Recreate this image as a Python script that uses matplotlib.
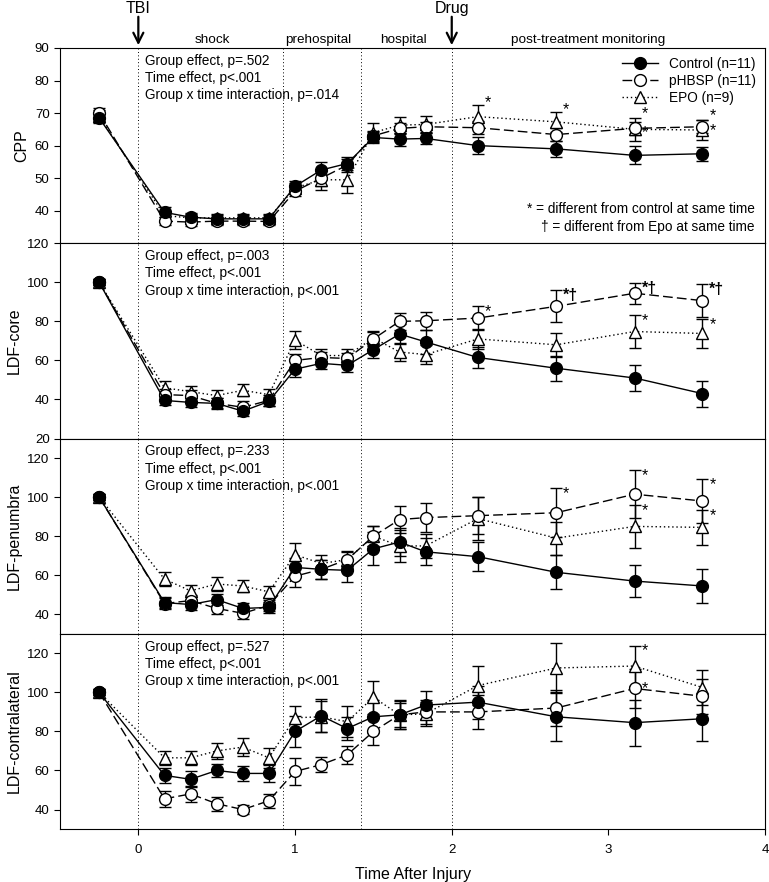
import matplotlib
matplotlib.use('Agg')
import matplotlib.pyplot as plt
import matplotlib.transforms as mtransforms
from matplotlib.lines import Line2D

plt.rcParams['font.family'] = ['Liberation Sans', 'DejaVu Sans']

# time points (hours after injury)
times = [-0.25, 0.167, 0.333, 0.5, 0.667, 0.833, 1.0, 1.167, 1.333, 1.5, 1.667, 1.833, 2.167, 2.667, 3.167, 3.6]

# CPP
cpp_control = [68.5, 39.5, 38, 37.5, 37.5, 37.5, 47.5, 52.5, 54.5, 62.5, 62, 62.2, 60, 59, 57, 57.5]
cpp_phbsp = [70, 36.8, 36.5, 36.8, 36.8, 36.7, 46, 50, 54, 63, 65.3, 65.8, 65.5, 63.4, 65.3, 65.8]
cpp_epo = [69, 38.5, 37.8, 37.8, 37.8, 37.8, 47, 49.5, 49.5, 64, 66.3, 66.5, 68.9, 67.3, 65, 64.8]
cpp_control_err = [1.5, 1.5, 1.3, 1.3, 1.3, 1.3, 1.5, 2.5, 2, 1.8, 2, 1.8, 2.5, 2.5, 2.8, 2.2]
cpp_phbsp_err = [1.5, 1.2, 1.2, 1.2, 1.2, 1.2, 1.5, 2.5, 2, 1.5, 1.8, 1.5, 2, 2, 2, 2]
cpp_epo_err = [1.8, 1.3, 1.3, 1.3, 1.3, 1.3, 1.5, 3, 4, 3, 2.5, 2.5, 3.5, 3, 3.6, 3]

# LDF-core
core_control = [100, 39.5, 38.5, 38, 34, 39, 55.5, 58.5, 57.5, 65.5, 73.5, 69.5, 61.5, 56, 51, 43]
core_phbsp = [100, 42.5, 42, 38, 36, 39.5, 60, 61.5, 61, 71, 80, 80.3, 81.7, 87.7, 94.4, 90.6]
core_epo = [100, 46, 44, 42, 44.7, 42.5, 70.4, 62.5, 62.5, 71.5, 64.3, 63, 71, 68, 74.8, 73.8]
core_control_err = [1.5, 2.5, 2.5, 2.5, 2.5, 2.5, 4, 3, 3.5, 4.5, 5, 6, 5.5, 6.5, 6.7, 6.6]
core_phbsp_err = [1.5, 3, 3, 3, 3, 3, 3.5, 3, 3, 3.5, 4.5, 4.5, 6.3, 8.2, 5.5, 8.6]
core_epo_err = [1.5, 3.5, 3, 3, 3, 3, 4.7, 3.5, 3.5, 3.5, 4.7, 4.7, 5, 6, 8.5, 7.6]

# LDF-penumbra
pen_control = [100, 46, 45, 47.5, 43, 43.5, 64, 63, 62.5, 73.5, 77, 72, 69.5, 61.5, 57, 54.5]
pen_phbsp = [100, 45.5, 47, 43, 40.5, 44.5, 59.5, 63, 68, 80, 88.5, 89.5, 90.5, 92, 101.5, 98]
pen_epo = [100, 58, 52, 55.5, 54.5, 51.5, 70.5, 66, 68, 80, 75, 75, 89, 79, 85, 84.5]
pen_control_err = [1.5, 3, 3, 3, 3, 3, 5, 5, 6, 8.5, 7, 7, 7.5, 8.8, 8.2, 8.7]
pen_phbsp_err = [1.5, 3, 3, 3, 3, 3, 5.5, 5, 4, 5, 7, 7.5, 9.5, 12.5, 12.2, 11.3]
pen_epo_err = [1.5, 3.5, 3, 3.5, 3, 3, 6, 4.5, 4.5, 5, 8, 6, 11, 8.5, 11, 8.9]

# LDF-contralateral
con_control = [100, 57.5, 55.5, 60, 58.5, 58.5, 80, 88, 81.5, 87.5, 88.5, 93.5, 95, 87.5, 84.5, 86.5]
con_phbsp = [100, 45.5, 48, 43, 40, 44.5, 59.5, 63, 68, 80, 88.5, 90, 90, 92, 102, 98]
con_epo = [100, 66.5, 66.5, 70, 72, 66.5, 87, 87.5, 85, 97.5, 88.5, 89, 103.5, 112.5, 113.5, 102.5]
con_control_err = [1.5, 4, 4, 3.5, 4, 4.5, 8, 8.5, 6, 8.5, 7.5, 7, 8.5, 12.5, 11.8, 11.5]
con_phbsp_err = [1.5, 4, 4, 3.5, 2.5, 3.5, 7, 4, 4.5, 7, 6, 6, 8.5, 9, 10, 9]
con_epo_err = [1.5, 3.5, 3.5, 4, 4.5, 5, 6, 8, 8, 8.5, 7, 6, 10, 12.8, 10, 9]

panel_names = ['CPP', 'LDF-core', 'LDF-penumbra', 'LDF-contralateral']
stats_text = [
    ['Group effect, p=.502', 'Time effect, p<.001', 'Group x time interaction, p=.014'],
    ['Group effect, p=.003', 'Time effect, p<.001', 'Group x time interaction, p<.001'],
    ['Group effect, p=.233', 'Time effect, p<.001', 'Group x time interaction, p<.001'],
    ['Group effect, p=.527', 'Time effect, p<.001', 'Group x time interaction, p<.001'],
]

# significance marks: (panel, group, time index, text, at top of error bar or beside marker, y offset pt)
marks = [
    (0, 'epo', 12, '*', 'top', 2), (0, 'epo', 13, '*', 'top', 2), (0, 'epo', 14, '*', 'top', 3),
    (0, 'phbsp', 14, '*', 'mid', -3), (0, 'epo', 15, '*', 'top', 3), (0, 'phbsp', 15, '*', 'mid', -3),
    (1, 'phbsp', 12, '*', 'top', -4), (1, 'phbsp', 13, '*†', 'top', -4), (1, 'phbsp', 14, '*†', 'top', -4),
    (1, 'phbsp', 15, '*†', 'top', -4), (1, 'epo', 14, '*', 'top', -4), (1, 'epo', 15, '*', 'top', -4),
    (2, 'phbsp', 13, '*', 'top', -4), (2, 'phbsp', 14, '*', 'top', -4), (2, 'phbsp', 15, '*', 'top', -4),
    (2, 'epo', 14, '*', 'top', -4), (2, 'epo', 15, '*', 'top', -4),
    (3, 'epo', 14, '*', 'top', -3), (3, 'phbsp', 14, '*', 'mid', 0),
]

phase_lines = [0, 0.92, 1.42, 2.0]
phase_labels = ['shock', 'prehospital', 'hospital', 'post-treatment monitoring']
phase_label_x = [0.47, 1.15, 1.69, 2.87]

data = [
    {'control': (cpp_control, cpp_control_err), 'phbsp': (cpp_phbsp, cpp_phbsp_err), 'epo': (cpp_epo, cpp_epo_err)},
    {'control': (core_control, core_control_err), 'phbsp': (core_phbsp, core_phbsp_err), 'epo': (core_epo, core_epo_err)},
    {'control': (pen_control, pen_control_err), 'phbsp': (pen_phbsp, pen_phbsp_err), 'epo': (pen_epo, pen_epo_err)},
    {'control': (con_control, con_control_err), 'phbsp': (con_phbsp, con_phbsp_err), 'epo': (con_epo, con_epo_err)},
]
ylims = [(30, 90), (20, 120), (30, 130), (30, 130)]
yticks = [[40, 50, 60, 70, 80, 90], [20, 40, 60, 80, 100, 120], [40, 60, 80, 100, 120], [40, 60, 80, 100, 120]]

styles = {
    'control': dict(marker='o', mfc='black', ls='-', label='Control (n=11)'),
    'phbsp': dict(marker='o', mfc='white', ls=(0, (7, 3)), label='pHBSP (n=11)'),
    'epo': dict(marker='^', mfc='white', ls=(0, (1, 2)), label='EPO (n=9)'),
}

fig, axes = plt.subplots(4, 1, sharex=True, figsize=(7.69, 8.82), dpi=100)
fig.subplots_adjust(left=0.078, right=0.995, bottom=0.060, top=0.9456, hspace=0)

for i, ax in enumerate(axes):
    for grp in ['epo', 'phbsp', 'control']:
        vals, errs = data[i][grp]
        st = styles[grp]
        ax.errorbar(times, vals, yerr=errs, color='black', ecolor='black', elinewidth=1,
                    capsize=4, capthick=1, lw=1, marker=st['marker'], mfc=st['mfc'],
                    mec='black', ms=8.5, ls=st['ls'], label=st['label'])
    for x in phase_lines:
        ax.axvline(x, color='black', ls=(0, (1, 2.5)), lw=0.7, zorder=0)
    ax.set_ylim(*ylims[i])
    ax.set_yticks(yticks[i])
    ax.set_ylabel(panel_names[i], fontsize=11.5)
    ax.tick_params(axis='y', direction='out', length=4, labelsize=9.5)
    ax.tick_params(axis='x', length=0)
    ax.text(0.045, ylims[i][1] - 0.03 * (ylims[i][1] - ylims[i][0]), '\n'.join(stats_text[i]),
            fontsize=9.8, va='top', ha='left', linespacing=1.3)

for p, grp, k, txt, where, dy in marks:
    vals, errs = data[p][grp]
    y = vals[k] + errs[k] if where == 'top' else vals[k]
    axes[p].annotate(txt, (times[k], y), xytext=(5, dy), textcoords='offset points',
                     fontsize=11.5, ha='left', va='center', fontweight='bold' if '†' in txt else 'normal')

axes[3].set_xlim(-0.5, 4)
axes[3].set_xticks([0, 1, 2, 3, 4])
axes[3].tick_params(axis='x', direction='out', length=4, labelsize=9.5, pad=7)
axes[3].set_xlabel('Time After Injury', fontsize=11.5, labelpad=8)

top = axes[0]
for x, lab in zip(phase_label_x, phase_labels):
    top.text(x, 1.04, lab, transform=top.get_xaxis_transform(), ha='center', va='center', fontsize=9.7)

# event arrows: x in data units, y in figure fraction
trans = mtransforms.blended_transform_factory(top.transData, fig.transFigure)
for x, lab in [(0, 'TBI'), (2, 'Drug')]:
    top.annotate('', xy=(x, 1.0), xycoords=top.get_xaxis_transform(), xytext=(x, 1 - 14 / 882),
                 textcoords=trans,
                 arrowprops=dict(arrowstyle='->', lw=1.6, mutation_scale=18, color='black'))
    top.text(x, 0.999, lab, transform=trans, ha='center', va='top', fontsize=11.5)

handles = [Line2D([], [], color='black', marker=styles[g]['marker'], mfc=styles[g]['mfc'], mec='black',
                  ms=8.5, ls=styles[g]['ls'], lw=1) for g in ['control', 'phbsp', 'epo']]
top.legend(handles, [styles[g]['label'] for g in ['control', 'phbsp', 'epo']], loc='upper right',
           frameon=False, fontsize=9.8, handlelength=2.7, borderaxespad=0.25, labelspacing=0.22,
           handletextpad=0.8)
top.text(0.985, 0.174, '* = different from control at same time', transform=top.transAxes,
         ha='right', va='center', fontsize=9.8)
top.text(0.985, 0.082, '† = different from Epo at same time', transform=top.transAxes,
         ha='right', va='center', fontsize=9.8)

fig.savefig('out.png', dpi=100)
